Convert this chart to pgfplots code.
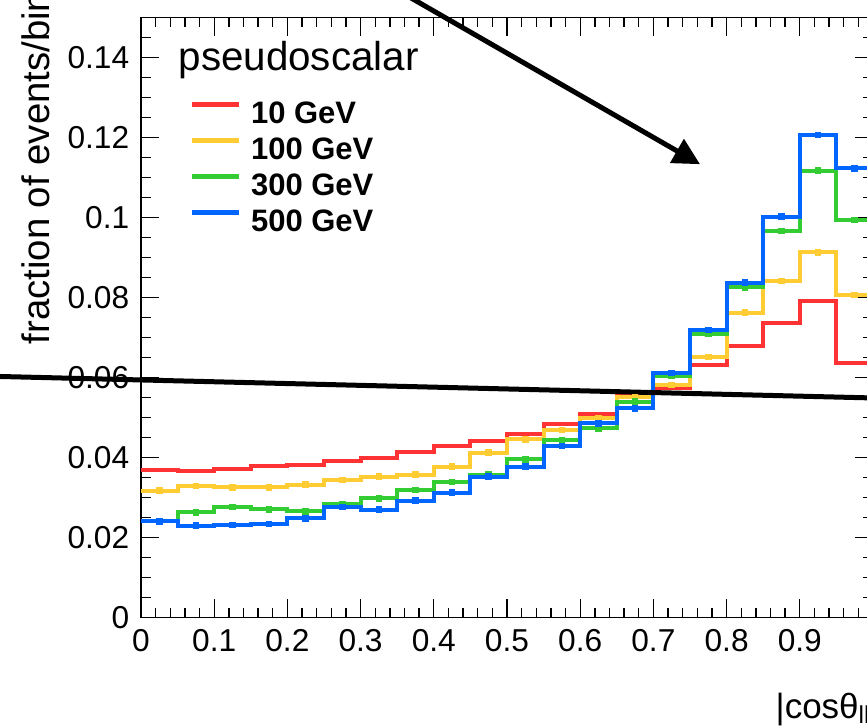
\documentclass[border=0pt]{standalone}
\usepackage{fontspec}
\setmainfont{Liberation Sans}
\usepackage{pgfplots}
\pgfplotsset{compat=1.18}
\usepackage{pgfplotstable}
\usetikzlibrary{arrows.meta}
\definecolor{hred}{RGB}{255,51,51}
\definecolor{hyel}{RGB}{255,204,51}
\definecolor{hgrn}{RGB}{51,204,51}
\definecolor{hblu}{RGB}{0,102,255}

% bin left edges (last row repeats the last bin to close the step at x=1)
\pgfplotstableread{
x    red    yel    grn    blu
0.00 0.0369 0.0317 0.0241 0.0241
0.05 0.0367 0.0329 0.0263 0.0230
0.10 0.0372 0.0326 0.0277 0.0232
0.15 0.0379 0.0326 0.0271 0.0234
0.20 0.0381 0.0332 0.0266 0.0248
0.25 0.0391 0.0344 0.0284 0.0277
0.30 0.0400 0.0352 0.0298 0.0270
0.35 0.0414 0.0357 0.0319 0.0292
0.40 0.0429 0.0377 0.0339 0.0312
0.45 0.0442 0.0412 0.0357 0.0352
0.50 0.0458 0.0446 0.0396 0.0377
0.55 0.0483 0.0469 0.0444 0.0429
0.60 0.0509 0.0498 0.0473 0.0486
0.65 0.0555 0.0551 0.0540 0.0523
0.70 0.0575 0.0581 0.0605 0.0611
0.75 0.0631 0.0651 0.0710 0.0719
0.80 0.0679 0.0762 0.0825 0.0837
0.85 0.0737 0.0841 0.0966 0.1002
0.90 0.0792 0.0913 0.1117 0.1206
0.95 0.0637 0.0806 0.0994 0.1123
1.00 0.0637 0.0806 0.0994 0.1123
}\hist

% bin centres, for the error bars
\pgfplotstableread{
x     yel    grn    blu
0.025 0.0317 0.0241 0.0241
0.075 0.0329 0.0263 0.0230
0.125 0.0326 0.0277 0.0232
0.175 0.0326 0.0271 0.0234
0.225 0.0332 0.0266 0.0248
0.275 0.0344 0.0284 0.0277
0.325 0.0352 0.0298 0.0270
0.375 0.0357 0.0319 0.0292
0.425 0.0377 0.0339 0.0312
0.475 0.0412 0.0357 0.0352
0.525 0.0446 0.0396 0.0377
0.575 0.0469 0.0444 0.0429
0.625 0.0498 0.0473 0.0486
0.675 0.0551 0.0540 0.0523
0.725 0.0581 0.0605 0.0611
0.775 0.0651 0.0710 0.0719
0.825 0.0762 0.0825 0.0837
0.875 0.0841 0.0966 0.1002
0.925 0.0913 0.1117 0.1206
0.975 0.0806 0.0994 0.1123
}\cent

\begin{document}
\begin{tikzpicture}
\path[use as bounding box] (-42.3pt,-32.49pt) rectangle (217.8pt,185.31pt);
\clip (-42.3pt,-32.49pt) rectangle (217.8pt,185.31pt);
\begin{axis}[
  at={(0,0)}, anchor=south west,
  scale only axis, width=219.6pt, height=180.12pt,
  xmin=0, xmax=1, ymin=0, ymax=0.15,
  clip=false,
  xtick={0,0.1,0.2,0.3,0.4,0.5,0.6,0.7,0.8,0.9},
  xticklabels={0,0.1,0.2,0.3,0.4,0.5,0.6,0.7,0.8,0.9},
  minor xtick={0,0.02,...,1.0},
  ytick={0,0.02,0.04,0.06,0.08,0.1,0.12,0.14},
  yticklabels={0,0.02,0.04,0.06,0.08,0.1,0.12,0.14},
  minor ytick={0,0.005,...,0.15},
  major tick length=5.5pt, minor tick length=3pt,
  tick style={black, line width=0.4pt},
  axis line style={line width=0.45pt},
  tick label style={font=\fontsize{9.5}{9.5}\selectfont},
  legend style={at={(axis cs:0.067,0.1288)}, anchor=north west, draw=none, fill=none,
    inner sep=0pt, outer sep=0pt, row sep=2.8pt, column sep=3pt,
    font=\fontsize{9.3}{9.3}\selectfont\bfseries, nodes={inner sep=0pt}},
  legend cell align=left,
  legend image code/.code={\draw[#1, line width=1.3pt] (0pt,0.33em) -- (14pt,0.33em);},
]
% red 10 GeV
\addplot[const plot mark left, hred, line width=1.2pt] table[x=x, y=red] {\hist};
\addlegendentry{10 GeV}
% yellow 100 GeV
\addplot[const plot mark left, hyel, line width=1.2pt] table[x=x, y=yel] {\hist};
\addlegendentry{100 GeV}
\addplot[only marks, hyel, mark=square*, mark size=0.8pt, forget plot,
  error bars/.cd, y dir=both, y fixed=0.0008, error mark=none,
  error bar style={line width=1.2pt}] table[x=x, y=yel] {\cent};
% green 300 GeV
\addplot[const plot mark left, hgrn, line width=1.2pt] table[x=x, y=grn] {\hist};
\addlegendentry{300 GeV}
\addplot[only marks, hgrn, mark=square*, mark size=0.8pt, forget plot,
  error bars/.cd, y dir=both, y fixed=0.0008, error mark=none,
  error bar style={line width=1.2pt}] table[x=x, y=grn] {\cent};
% blue 500 GeV
\addplot[const plot mark left, hblu, line width=1.2pt] table[x=x, y=blu] {\hist};
\addlegendentry{500 GeV}
\addplot[only marks, hblu, mark=square*, mark size=0.8pt, forget plot,
  error bars/.cd, y dir=both, y fixed=0.0008, error mark=none,
  error bar style={line width=1.2pt}] table[x=x, y=blu] {\cent};
% annotation line and arrow
\addplot[black, line width=1.5pt, forget plot] coordinates {(-0.2,0.0603) (1.0,0.0549)};
\addplot[black, line width=1.5pt, -{Triangle[length=8pt,width=8pt]}, forget plot]
  coordinates {(0.3265,0.1593) (0.7637,0.1133)};
% texts
\node[anchor=base west, inner sep=0pt, font=\fontsize{12.1}{12.1}\selectfont]
  at (axis cs:0.0505,0.1366) {pseudoscalar};
\node[rotate=90, anchor=base west, inner sep=0pt, font=\fontsize{11.5}{11.5}\selectfont]
  at ([shift={(-27.3pt,81.8pt)}]rel axis cs:0,0) {fraction of events/bin};
\node[anchor=base west, inner sep=0pt, font=\fontsize{10.5}{10.5}\selectfont]
  at ([shift={(190.2pt,-30.1pt)}]rel axis cs:0,0) {|cosθ\textsubscript{ll}|};
\end{axis}
\end{tikzpicture}
\end{document}
